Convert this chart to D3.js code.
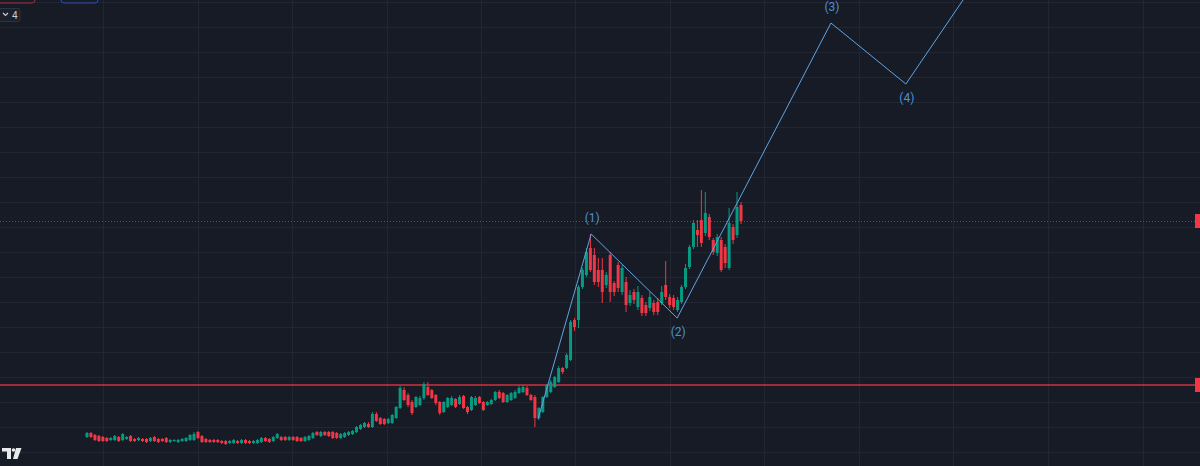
<!DOCTYPE html>
<html><head><meta charset="utf-8">
<script src="https://cdn.jsdelivr.net/npm/d3@7"></script>
<style>html,body{margin:0;padding:0;background:#171b26;overflow:hidden}svg{display:block}</style>
</head><body><svg id="c" width="1200" height="466"></svg>
<script>
// ---- data (price units) ----
const opens  = [15,19,17,16,15,14,12,12,15,12,13,16,13,12,13,13,11,15,13,13,14,10,11,10,11,11,12,12,20,16,13,12,12,12,11,11,9,9,11,9,12,11,9,9,10,14,13,11,14,15,15,12,15,15,14,11,12,14,20,16,20,20,20,19,14,15,17,18,20,23,25,28,25,38,34,33,29,29,34,44,62,57,50,45,47,54,65,62,57,50,40,45,47,53,48,56,45,42,47,55,50,47,48,52,60,59,50,52,54,59,60,64,57,55,34,40,55,60,65,70,84,84,92,132,132,165,177,204,197,182,182,167,197,169,187,160,170,149,160,145,154,147,144,149,150,149,167,155,154,142,150,165,185,205,222,232,219,235,212,199,212,205,184,225,217,247];
const highs  = [20,20,18,17,16,15,15,17,16,19,16,17,14,15,14,14,15,16,14,14,15,13,13,13,14,15,18,20,21,17,14,13,13,13,12,12,12,13,12,13,13,12,12,13,15,15,14,16,19,16,16,16,16,16,15,16,17,20,21,21,21,21,21,20,19,20,21,22,26,28,30,30,40,40,35,34,34,38,46,66,65,59,52,56,56,70,70,63,58,51,51,55,56,54,57,57,46,56,56,56,51,51,53,61,62,60,58,60,62,66,67,66,58,57,45,56,68,72,76,86,85,99,132,134,167,184,204,218,204,194,194,180,200,171,190,187,175,162,163,166,157,150,160,152,154,166,191,158,157,155,167,188,207,232,232,262,260,238,214,218,215,208,244,228,260,250];
const lows   = [14,14,11,10,10,10,11,11,10,11,12,10,10,11,10,9,10,10,9,10,9,9,10,9,10,10,11,11,13,9,9,9,9,9,8,7,8,8,8,8,8,8,8,8,9,10,9,10,13,11,11,11,11,10,10,10,11,13,16,15,16,15,13,13,13,14,16,17,19,22,24,24,24,30,27,27,28,28,33,43,51,45,37,44,46,52,56,53,47,37,39,44,46,44,47,43,38,41,46,48,41,46,47,51,53,49,49,51,53,58,59,56,51,25,32,39,54,59,64,69,78,83,91,121,124,163,175,180,167,165,149,164,150,156,160,157,140,146,148,142,136,136,141,137,137,147,152,144,142,140,148,163,183,203,205,205,216,212,197,196,180,184,182,208,214,228];
const closes = [19,15,12,11,11,11,14,16,11,18,15,11,11,14,11,10,14,11,10,11,10,12,12,12,13,14,17,18,14,10,10,10,10,10,9,8,11,12,9,12,9,9,11,12,14,11,10,15,18,12,12,15,12,11,11,15,16,19,17,20,17,16,14,14,18,19,20,21,25,27,29,25,38,31,28,28,33,37,45,64,52,47,39,55,54,68,57,54,49,39,50,54,54,45,55,44,40,55,54,49,42,50,52,60,54,50,57,59,60,64,65,57,52,34,44,55,67,70,75,84,80,97,130,125,165,182,200,182,170,170,160,177,160,160,164,184,147,157,152,160,139,139,155,140,140,160,155,147,145,152,165,184,205,229,217,209,239,215,200,215,182,189,229,212,245,231];

const waveTime   = [113.8, 127.2, 148.9, 187.7, 206.6, 232];
const wavePrice  = [33, 218, 134, 429, 368, 516];
const waveLabels = ["", "(1)", "(2)", "(3)", "(4)", ""];
const waveSide   = [0, -1, 1, -1, 1, 0];   // -1 label above, 1 label below

const priceTicks = [0,25,50,75,100,125,150,175,200,225,250,275,300,325,350,375,400,425,450];
const timeTicks  = [4, 27.9, 51.7, 75.6, 99.4, 123.2, 147.1, 170.9, 194.8, 218.6, 242.4, 266.3];
const levelPrice = 67;

// ---- drawing ----
const W = 1200, H = 466;
const svg = d3.select("#c");
const x = d3.scaleLinear().domain([0, 165]).range([87, 741]);
const y = d3.scaleLinear().domain([0, 450]).range([452, 2]);
const up = "#089981", down = "#f23645";

svg.append("rect").attr("width", W).attr("height", H).attr("fill", "#171b26");

// grid
const g = svg.append("g").attr("stroke", "#222633").attr("stroke-width", 1);
g.selectAll("line.h").data(priceTicks).join("line").attr("class","h")
  .attr("x1", 0).attr("x2", W)
  .attr("y1", d => Math.round(y(d)) + 0.5).attr("y2", d => Math.round(y(d)) + 0.5);
g.selectAll("line.v").data(timeTicks).join("line").attr("class","v")
  .attr("y1", 0).attr("y2", H)
  .attr("x1", d => Math.round(x(d)) + 0.5).attr("x2", d => Math.round(x(d)) + 0.5);

// horizontal level line (solid red)
svg.append("line").attr("x1", 0).attr("x2", W - 4)
  .attr("y1", y(levelPrice)).attr("y2", y(levelPrice))
  .attr("stroke", "#f23645").attr("stroke-opacity", 0.85).attr("stroke-width", 1.5);
svg.append("rect").attr("x", W - 5).attr("y", y(levelPrice) - 7).attr("width", 5).attr("height", 14)
  .attr("fill", "#f23645");

// last price dotted line
const lastPrice = closes[closes.length - 1];
svg.append("line").attr("x1", 0).attr("x2", W - 4)
  .attr("y1", Math.round(y(lastPrice)) + 0.5).attr("y2", Math.round(y(lastPrice)) + 0.5)
  .attr("stroke", "#f23645").attr("stroke-opacity", 0.7).attr("stroke-width", 1)
  .attr("stroke-dasharray", "1,2");
svg.append("rect").attr("x", W - 5).attr("y", y(lastPrice) - 7).attr("width", 5).attr("height", 14)
  .attr("fill", "#f23645");

// candles
const candles = opens.map((o, i) => ({i, o, h: highs[i], l: lows[i], c: closes[i]}));
const cg = svg.append("g");
cg.selectAll("line").data(candles).join("line")
  .attr("x1", d => x(d.i)).attr("x2", d => x(d.i))
  .attr("y1", d => y(d.h)).attr("y2", d => y(d.l))
  .attr("stroke", d => d.c >= d.o ? up : down).attr("stroke-width", 1);
cg.selectAll("rect").data(candles).join("rect")
  .attr("x", d => x(d.i) - 1.5).attr("width", 3)
  .attr("y", d => y(Math.max(d.o, d.c)))
  .attr("height", d => Math.max(1, Math.abs(y(d.o) - y(d.c))))
  .attr("fill", d => d.c >= d.o ? up : down);

// Elliott wave projection
const wave = waveTime.map((t, k) => ({t, p: wavePrice[k], lab: waveLabels[k], s: waveSide[k]}));
svg.append("path").datum(wave)
  .attr("d", d3.line().x(d => x(d.t)).y(d => y(d.p)))
  .attr("fill", "none").attr("stroke", "#5ea5e6").attr("stroke-width", 1);
svg.selectAll("text.wl").data(wave.filter(d => d.lab)).join("text").attr("class", "wl")
  .attr("x", d => x(d.t) + 1).attr("y", d => y(d.p) + d.s * 15)
  .attr("text-anchor", "middle").attr("dominant-baseline", "middle")
  .attr("font-family", "Roboto, 'Noto Sans', sans-serif").attr("font-size", 12)
  .attr("fill", "#4d8fd8").text(d => d.lab);

// top-left UI fragments
svg.append("rect").attr("x", -6).attr("y", -8).attr("width", 41).attr("height", 11).attr("rx", 3)
  .attr("fill", "none").attr("stroke", "#a82a3b").attr("stroke-width", 1);
svg.append("rect").attr("x", 61).attr("y", -8).attr("width", 37).attr("height", 11).attr("rx", 3)
  .attr("fill", "none").attr("stroke", "#2450b8").attr("stroke-width", 1);
svg.append("rect").attr("x", -4).attr("y", 8.5).attr("width", 24).attr("height", 13).attr("rx", 2)
  .attr("fill", "#1c202b").attr("stroke", "#2e323e").attr("stroke-width", 1);
svg.append("path").attr("d", "M3,13 L5.5,15.5 L8,13").attr("fill", "none")
  .attr("stroke", "#c9ccd4").attr("stroke-width", 1.2);
svg.append("text").attr("x", 12).attr("y", 18.5).attr("font-family", "Roboto, sans-serif")
  .attr("font-size", 10).attr("fill", "#c9ccd4").text("4");

// logo (bottom-left)
const logo = svg.append("g").attr("fill", "#e8e9ec");
logo.append("path").attr("d", "M2,448 L11,448 L11,459 L7,459 L7,451.5 L2,451.5 Z");
logo.append("circle").attr("cx", 13.5).attr("cy", 450).attr("r", 1.8);
logo.append("path").attr("d", "M16,448 L21.5,448 L17.5,459 L13,459 Z");
</script></body></html>
